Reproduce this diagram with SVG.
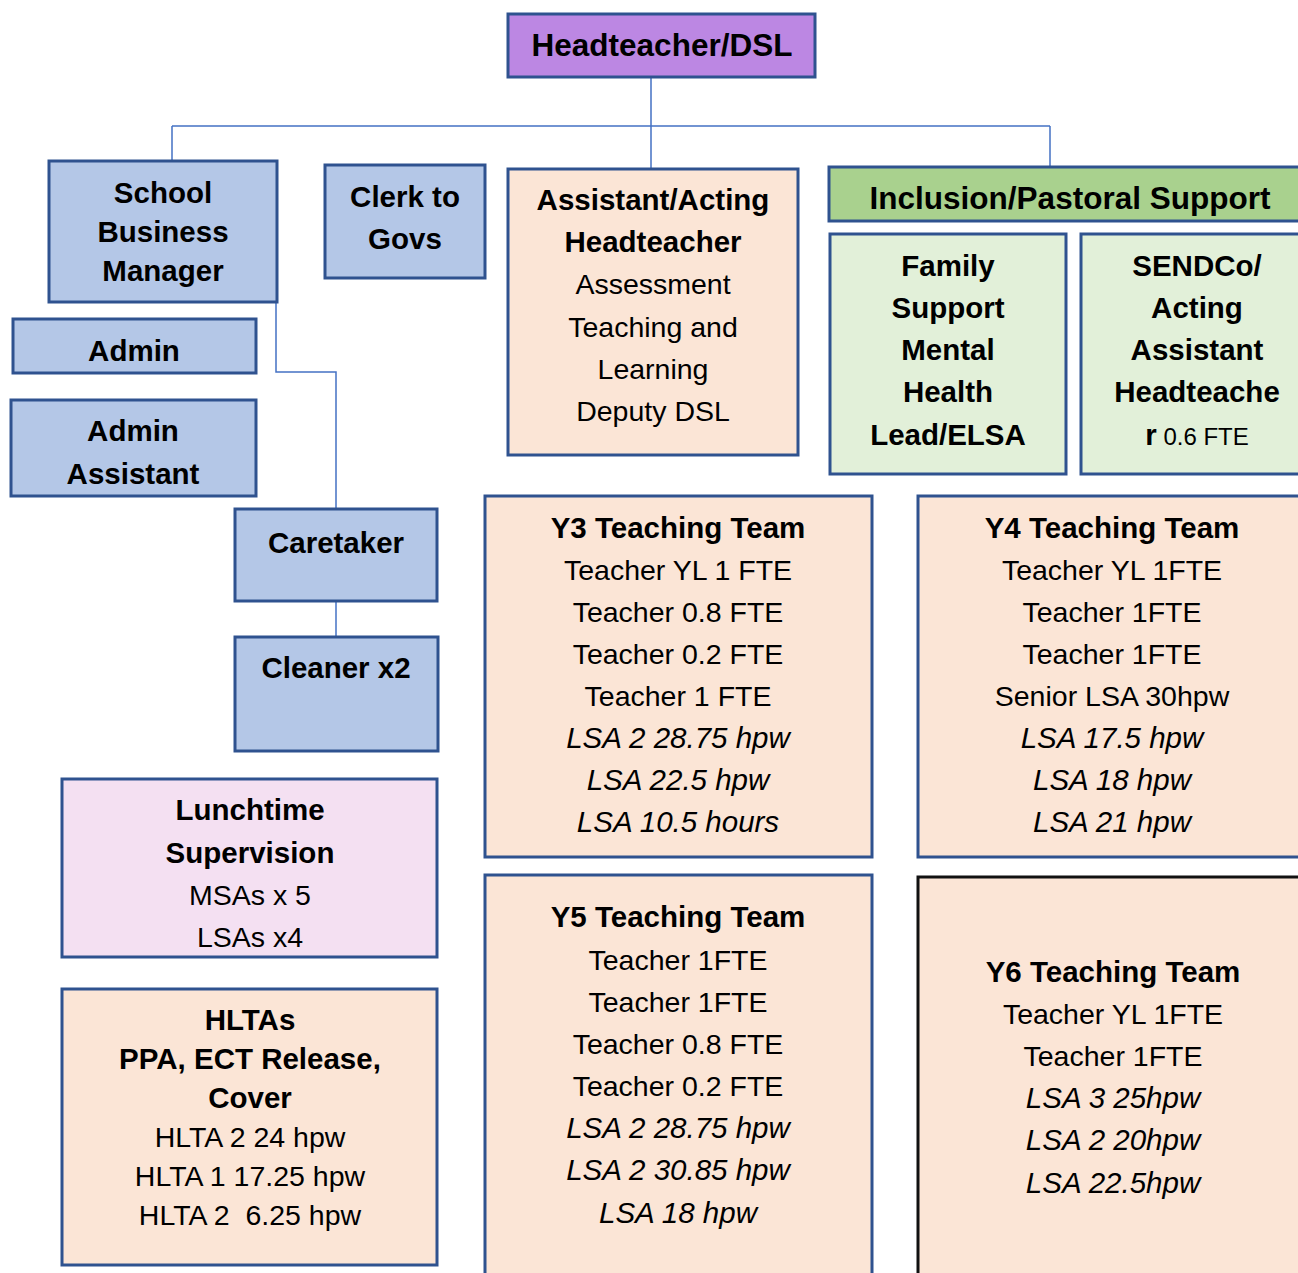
<svg xmlns="http://www.w3.org/2000/svg" width="1298" height="1273" viewBox="0 0 1298 1273">
<style>
text{font-family:"Liberation Sans",Arial,sans-serif;font-size:28.5px;fill:#000;text-anchor:middle}
.b{font-weight:bold;font-size:29.5px}
.i{font-style:italic;font-size:29.5px}
.box{stroke:#2F528F;stroke-width:3}
.blue{fill:#B4C7E7}
.peach{fill:#FBE5D6}
.purple{fill:#BC87E3}
.pink{fill:#F4E0F2}
.green{fill:#A9D18E}
.lgreen{fill:#E2F0D9}
.conn{fill:none;stroke:#4472C4;stroke-width:1.5}
</style>
<rect width="1298" height="1273" fill="#fff"/>
<g id="connectors">
<path class="conn" d="M651,77 V126 M172,126 H1050 M172,126 V161 M651,126 V169 M1050,126 V167"/>
<path class="conn" d="M276,302 V372 H336 V509"/>
<path class="conn" d="M336,601 V637"/>
</g>
<g id="headteacher">
<rect class="box purple" x="508" y="14" width="307" height="63"/>
<text class="b" x="662" y="56" style="font-size:31.5px">Headteacher/DSL</text>
</g>
<g id="sbm">
<rect class="box blue" x="49" y="161" width="228" height="141"/>
<text class="b" x="163" y="203">School</text>
<text class="b" x="163" y="242">Business</text>
<text class="b" x="163" y="281">Manager</text>
</g>
<g id="clerk">
<rect class="box blue" x="325" y="165" width="160" height="113"/>
<text class="b" x="405" y="207">Clerk to</text>
<text class="b" x="405" y="249">Govs</text>
</g>
<g id="assistant-head">
<rect class="box peach" x="508" y="169" width="290" height="286"/>
<text class="b" x="653" y="210">Assistant/Acting</text>
<text class="b" x="653" y="252">Headteacher</text>
<text x="653" y="294">Assessment</text>
<text x="653" y="337">Teaching and</text>
<text x="653" y="379">Learning</text>
<text x="653" y="421">Deputy DSL</text>
</g>
<g id="inclusion">
<rect class="box green" x="829" y="167" width="480" height="54"/>
<text class="b" x="1070" y="209" style="font-size:31.5px">Inclusion/Pastoral Support</text>
</g>
<g id="family">
<rect class="box lgreen" x="830" y="234" width="236" height="240"/>
<text class="b" x="948" y="276">Family</text>
<text class="b" x="948" y="318">Support</text>
<text class="b" x="948" y="360">Mental</text>
<text class="b" x="948" y="402">Health</text>
<text class="b" x="948" y="445">Lead/ELSA</text>
</g>
<g id="sendco">
<rect class="box lgreen" x="1081" y="234" width="228" height="240"/>
<text class="b" x="1197" y="276">SENDCo/</text>
<text class="b" x="1197" y="318">Acting</text>
<text class="b" x="1197" y="360">Assistant</text>
<text class="b" x="1197" y="402">Headteache</text>
<text x="1197" y="445"><tspan class="b">r</tspan><tspan style="font-size:24px"> 0.6 FTE</tspan></text>
</g>
<g id="admin">
<rect class="box blue" x="13" y="319" width="243" height="54"/>
<text class="b" x="134" y="361">Admin</text>
</g>
<g id="admin-assistant">
<rect class="box blue" x="11" y="400" width="245" height="96"/>
<text class="b" x="133" y="441">Admin</text>
<text class="b" x="133" y="484">Assistant</text>
</g>
<g id="caretaker">
<rect class="box blue" x="235" y="509" width="202" height="92"/>
<text class="b" x="336" y="553">Caretaker</text>
</g>
<g id="cleaner">
<rect class="box blue" x="235" y="637" width="203" height="114"/>
<text class="b" x="336" y="678">Cleaner x2</text>
</g>
<g id="lunchtime">
<rect class="box pink" x="62" y="779" width="375" height="178"/>
<text class="b" x="250" y="820">Lunchtime</text>
<text class="b" x="250" y="863">Supervision</text>
<text x="250" y="905">MSAs x 5</text>
<text x="250" y="947">LSAs x4</text>
</g>
<g id="hltas">
<rect class="box peach" x="62" y="989" width="375" height="276"/>
<text class="b" x="250" y="1030">HLTAs</text>
<text class="b" x="250" y="1069">PPA, ECT Release,</text>
<text class="b" x="250" y="1108">Cover</text>
<text x="250" y="1147">HLTA 2 24 hpw</text>
<text x="250" y="1186">HLTA 1 17.25 hpw</text>
<text x="250" y="1225" xml:space="preserve">HLTA 2  6.25 hpw</text>
</g>
<g id="y3">
<rect class="box peach" x="485" y="496" width="387" height="361"/>
<text class="b" x="678" y="538">Y3 Teaching Team</text>
<text x="678" y="580">Teacher YL 1 FTE</text>
<text x="678" y="622">Teacher 0.8 FTE</text>
<text x="678" y="664">Teacher 0.2 FTE</text>
<text x="678" y="706">Teacher 1 FTE</text>
<text class="i" x="678" y="748">LSA 2 28.75 hpw</text>
<text class="i" x="678" y="790">LSA 22.5 hpw</text>
<text class="i" x="678" y="832">LSA 10.5 hours</text>
</g>
<g id="y4">
<rect class="box peach" x="918" y="496" width="392" height="361"/>
<text class="b" x="1112" y="538">Y4 Teaching Team</text>
<text x="1112" y="580">Teacher YL 1FTE</text>
<text x="1112" y="622">Teacher 1FTE</text>
<text x="1112" y="664">Teacher 1FTE</text>
<text x="1112" y="706">Senior LSA 30hpw</text>
<text class="i" x="1112" y="748">LSA 17.5 hpw</text>
<text class="i" x="1112" y="790">LSA 18 hpw</text>
<text class="i" x="1112" y="832">LSA 21 hpw</text>
</g>
<g id="y5">
<rect class="box peach" x="485" y="875" width="387" height="410"/>
<text class="b" x="678" y="927">Y5 Teaching Team</text>
<text x="678" y="970">Teacher 1FTE</text>
<text x="678" y="1012">Teacher 1FTE</text>
<text x="678" y="1054">Teacher 0.8 FTE</text>
<text x="678" y="1096">Teacher 0.2 FTE</text>
<text class="i" x="678" y="1138">LSA 2 28.75 hpw</text>
<text class="i" x="678" y="1180">LSA 2 30.85 hpw</text>
<text class="i" x="678" y="1223">LSA 18 hpw</text>
</g>
<g id="y6">
<rect class="peach" x="918" y="877" width="392" height="410" stroke="#111" stroke-width="3"/>
<text class="b" x="1113" y="982">Y6 Teaching Team</text>
<text x="1113" y="1024">Teacher YL 1FTE</text>
<text x="1113" y="1066">Teacher 1FTE</text>
<text class="i" x="1113" y="1108">LSA 3 25hpw</text>
<text class="i" x="1113" y="1150">LSA 2 20hpw</text>
<text class="i" x="1113" y="1193">LSA 22.5hpw</text>
</g>
</svg>
